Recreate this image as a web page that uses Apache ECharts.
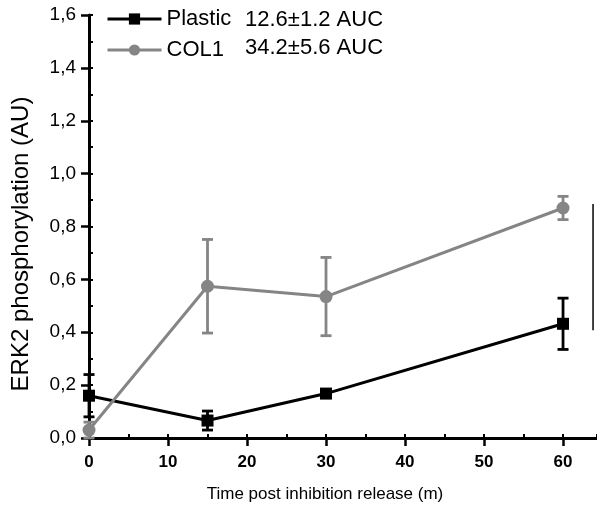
<!DOCTYPE html>
<html><head><meta charset="utf-8">
<script src="https://cdn.jsdelivr.net/npm/echarts@6/dist/echarts.min.js"></script>
<style>html,body{margin:0;padding:0;background:#fff}#c{width:597px;height:510px}</style>
</head><body><div id="c"></div>
<script>
const times = [0, 15, 30, 60];
const plasticMean = [0.16, 0.066, 0.168, 0.432];
const plasticErr = [0.08, 0.036, 0.014, 0.097];
const col1Mean = [0.03, 0.574, 0.535, 0.87];
const col1Err = [0.03, 0.177, 0.148, 0.044];
const seriesNames = ['Plastic', 'COL1'];
const aucLabels = ['12.6\u00B11.2 AUC', '34.2\u00B15.6 AUC'];
const bracketX = [63.8, 63.8];
const bracketY = [0.885, 0.408];
const xTicks = [0, 10, 20, 30, 40, 50, 60];
const yTickLabels = ['0,0','0,2','0,4','0,6','0,8','1,0','1,2','1,4','1,6'];

const BLACK = '#000000', GRAY = '#858585';
const FONT = 'Liberation Sans';

function errSeries(mean, err, color) {
  return {
    type: 'custom', xAxisIndex: 0, yAxisIndex: 0, silent: true, z: 3,
    data: times.map((t, i) => [t, mean[i] - err[i], mean[i] + err[i]]),
    renderItem: function (params, api) {
      const x = api.value(0);
      const lo = api.coord([x, api.value(1)]);
      const hi = api.coord([x, api.value(2)]);
      const hw = 5.5;
      const st = { stroke: color, lineWidth: 2.8 };
      return { type: 'group', children: [
        { type: 'line', shape: { x1: lo[0], y1: lo[1], x2: hi[0], y2: hi[1] }, style: st },
        { type: 'line', shape: { x1: lo[0]-hw, y1: lo[1], x2: lo[0]+hw, y2: lo[1] }, style: st },
        { type: 'line', shape: { x1: hi[0]-hw, y1: hi[1], x2: hi[0]+hw, y2: hi[1] }, style: st }
      ]};
    }
  };
}

const chart = echarts.init(document.getElementById('c'), null, { renderer: 'canvas' });
chart.setOption({
  animation: false,
  backgroundColor: '#fff',
  textStyle: { fontFamily: FONT },
  grid: { left: 89, right: 0, top: 15, bottom: 72, containLabel: false },
  legend: {
    orient: 'vertical', left: 101, top: 3, itemWidth: 54, itemHeight: 14, itemGap: 9,
    data: seriesNames,
    lineStyle: { width: 3 },
    textStyle: { fontSize: 22, color: '#000', fontFamily: FONT, padding: [0,0,0,0] }
  },
  graphic: [
    { type: 'text', left: 245, top: 9, style: { text: aucLabels[0], font: '22px "Liberation Sans"', fill: '#000' } },
    { type: 'text', left: 245, top: 37, style: { text: aucLabels[1], font: '22px "Liberation Sans"', fill: '#000' } }
  ],
  xAxis: [{
    type: 'value', min: 0, max: 64.3, interval: 10,
    name: 'Time post inhibition release (m)', nameLocation: 'middle', nameGap: 48,
    nameTextStyle: { fontSize: 17, color: '#000', fontFamily: FONT, padding: [0, 36, 0, 0] },
    axisLine: { show: true, lineStyle: { color: '#000', width: 3 } },
    axisTick: { show: true, length: 8, inside: false, lineStyle: { color: '#000', width: 2.5 },
      customValues: xTicks },
    axisLabel: { fontSize: 17, fontWeight: 'bold', color: '#000', margin: 16, fontFamily: FONT,
      customValues: xTicks },
    splitLine: { show: false }
  }, {
    type: 'value', min: 0, max: 64.3, interval: 5, position: 'bottom',
    axisLine: { show: false }, axisLabel: { show: false }, splitLine: { show: false },
    axisTick: { show: true, inside: true, length: 4, lineStyle: { color: '#000', width: 2 } }
  }],
  yAxis: [{
    type: 'value', min: 0, max: 1.6, interval: 0.2,
    name: 'ERK2 phosphorylation (AU)', nameLocation: 'middle', nameGap: 56,
    nameTextStyle: { fontSize: 24, color: '#000', fontFamily: FONT, padding: [0, 35, 0, 0] },
    axisLine: { show: true, lineStyle: { color: '#000', width: 3 } },
    axisTick: { show: true, length: 8, inside: false, lineStyle: { color: '#000', width: 2.5 } },
    axisLabel: { fontSize: 19, color: '#000', margin: 13, fontFamily: FONT, padding: [6, 0, 0, 0],
      formatter: function (v) { return yTickLabels[Math.round(v / 0.2)]; } },
    splitLine: { show: false }
  }, {
    type: 'value', min: 0, max: 1.6, interval: 0.1, position: 'left',
    axisLine: { show: false }, axisLabel: { show: false }, splitLine: { show: false },
    axisTick: { show: true, inside: true, length: 4, lineStyle: { color: '#000', width: 2 } }
  }],
  series: [
    errSeries(col1Mean, col1Err, GRAY),
    errSeries(plasticMean, plasticErr, BLACK),
    {
      name: 'Plastic', type: 'line', z: 4, data: times.map((t, i) => [t, plasticMean[i]]),
      symbol: 'rect', symbolSize: 12, itemStyle: { color: BLACK },
      lineStyle: { color: BLACK, width: 3 }
    },
    {
      name: 'COL1', type: 'line', z: 4, data: times.map((t, i) => [t, col1Mean[i]]),
      symbol: 'circle', symbolSize: 13, itemStyle: { color: GRAY },
      lineStyle: { color: GRAY, width: 3 }
    },
    {
      type: 'line', silent: true, z: 2, data: bracketX.map((x, i) => [x, bracketY[i]]),
      symbol: 'none', lineStyle: { color: '#000', width: 1.5 }
    }
  ]
});
</script></body></html>
